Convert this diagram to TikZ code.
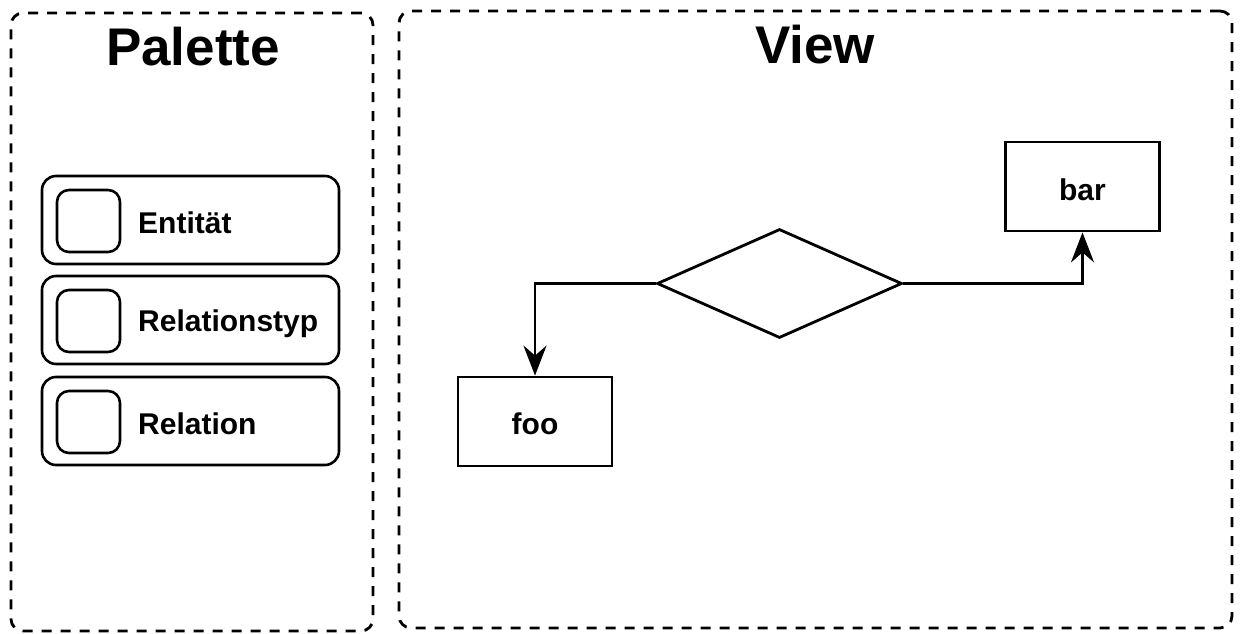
\documentclass[tikz,border=0pt]{standalone}
\usepackage{fontspec}
\setmainfont{Liberation Sans}
\usetikzlibrary{arrows.meta,shapes.geometric}
\begin{document}
\begin{tikzpicture}[x=1pt,y=-1pt,
  panel/.style={draw,line width=2.8pt,dash pattern=on 10pt off 9pt,rounded corners=12pt},
  item/.style={draw,line width=2.6pt,rounded corners=14pt,minimum width=297pt,minimum height=88pt,inner sep=0pt},
  icon/.style={draw,line width=2.6pt,rounded corners=12pt,minimum width=63pt,minimum height=62pt,inner sep=0pt},
  itemlabel/.style={anchor=west,font=\bfseries\fontsize{30}{34}\selectfont,inner sep=0pt},
  box/.style={draw,line width=2.8pt,minimum width=154pt,minimum height=89pt,inner sep=0pt},
  boxlabel/.style={font=\bfseries\fontsize{30}{34}\selectfont,inner sep=0pt},
  title/.style={font=\bfseries\fontsize{53}{60}\selectfont,inner sep=0pt},
  conn/.style={draw,line width=2.8pt,-{Stealth[length=30pt,width=23pt,inset=10pt]}}
]
\useasboundingbox (0,0) rectangle (1240,634);
% panels
\node[panel,minimum width=362pt,minimum height=618pt,inner sep=0pt] (palette) at (192,322) {};
\node[panel,minimum width=833pt,minimum height=617pt,inner sep=0pt] (view) at (815.5,319.5) {};
\node[title] (ptitle) at (193,47) {Palette};
\node[title] (vtitle) at (815,45) {View};
% palette items
\node[item] (i1) at (190.5,220) {};
\node[item] (i2) at (190.5,320) {};
\node[item] (i3) at (190.5,421) {};
\node[icon] (c1) at (88.5,221) {};
\node[icon] (c2) at (88.5,321) {};
\node[icon] (c3) at (88.5,422) {};
\node[itemlabel] (t1) at (138,223) {Entität};
\node[itemlabel] (t2) at (138,324) {Relationstyp};
\node[itemlabel] (t3) at (138,424) {Relation};
% view content
\node[box] (foo) at (535,421.5) {};
\node[boxlabel] (foolabel) at (535,424) {foo};
\node[box] (bar) at (1082.5,186.5) {};
\node[boxlabel] (barlabel) at (1082.5,190) {bar};
\node[diamond,draw,line width=2.8pt,minimum width=245pt,minimum height=109pt,inner sep=0pt,aspect=2.25] (rel) at (779.5,283.5) {};
\draw[conn] (rel.west) -| (foo.north);
\draw[conn] (rel.east) -| (bar.south);
\end{tikzpicture}
\end{document}
